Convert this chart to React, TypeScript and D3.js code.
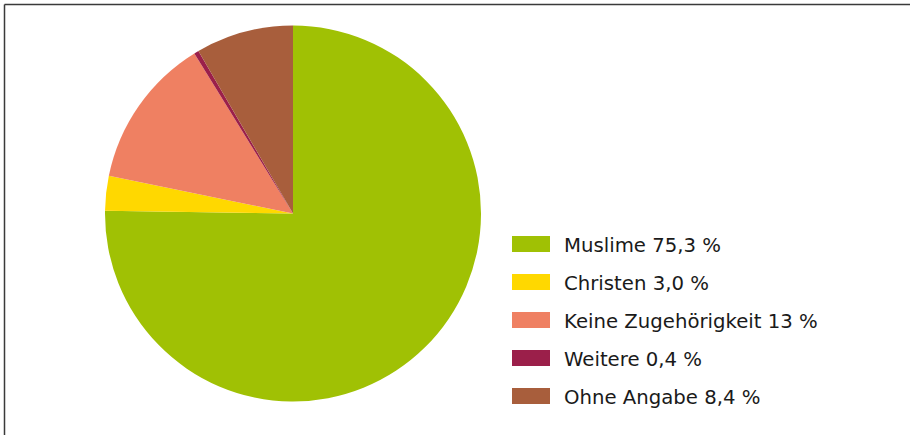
import React from "react";
import * as d3 from "d3";

const categories = ["Muslime", "Christen", "Keine Zugehörigkeit", "Weitere", "Ohne Angabe"];
const values = [75.3, 3.0, 13, 0.4, 8.4];
const valueLabels = ["75,3 %", "3,0 %", "13 %", "0,4 %", "8,4 %"];
const colors = ["#A0C104", "#FFD800", "#EF8062", "#9B1F4A", "#A85E3C"];

const W = 910;
const H = 435;
const cx = 293;
const cy = 213.5;
const radius = 188;

export default function App() {
  const pie = d3.pie<number>().sort(null).value((d) => d);
  const arcs = pie(values);
  const arcGen = d3.arc<d3.PieArcDatum<number>>().innerRadius(0).outerRadius(radius);

  const legendX = 512;
  const legendY0 = 244;
  const legendStep = 38;

  return (
    <svg
      width={W}
      height={H}
      style={{ position: "absolute", left: 0, top: 0, background: "#fff" }}
    >
      <rect x={0} y={0} width={W} height={H} fill="#fff" />
      <line x1={4.5} y1={4.5} x2={W} y2={4.5} stroke="#3a3a3a" strokeWidth={1.5} />
      <line x1={4.5} y1={4.5} x2={4.5} y2={H} stroke="#3a3a3a" strokeWidth={1.5} />
      <g transform={`translate(${cx},${cy})`}>
        {arcs.map((a, i) => (
          <path key={i} d={arcGen(a) || ""} fill={colors[i]} />
        ))}
      </g>
      <g fontFamily="'DejaVu Sans', sans-serif" fontSize={19.7} fill="#1a1a1a">
        {categories.map((c, i) => {
          const y = legendY0 + i * legendStep;
          return (
            <g key={c}>
              <rect x={legendX} y={y - 8} width={38} height={16} fill={colors[i]} />
              <text x={564} y={y + 7.5}>
                {c} {valueLabels[i]}
              </text>
            </g>
          );
        })}
      </g>
    </svg>
  );
}
